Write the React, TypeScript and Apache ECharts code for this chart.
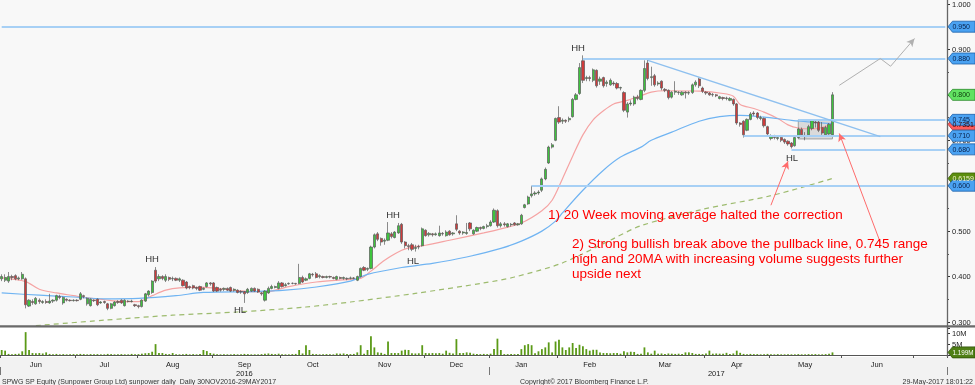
import React, { useEffect, useRef } from "react";
import * as echarts from "echarts";

const FONT = "'Liberation Sans', Arial, sans-serif";
const MONTHS = ["Jan", "Feb", "Mar", "Apr", "May", "Jun", "Jul", "Aug", "Sep", "Oct", "Nov", "Dec"];
const FIRST_DAY = "2016-06-01";
const LAST_DAY = "2017-07-14";
const HOLIDAYS = ["2016-07-06", "2016-08-09", "2016-09-12", "2016-12-26", "2017-01-02", "2017-01-30", "2017-04-14", "2017-05-01", "2017-05-10", "2017-06-26"];
const NO_TRADE_DAYS = ["2016-07-22", "2016-07-29", "2016-09-30", "2016-10-14", "2016-12-23", "2016-12-30"];

// [open, close, low, high]
const OHLC_2016_06 = [
  [0.395, 0.4, 0.39, 0.405], [0.392, 0.398, 0.388, 0.405], [0.39, 0.4, 0.386, 0.41], [0.4, 0.398, 0.392, 0.404],
  [0.402, 0.395, 0.392, 0.405], [0.395, 0.397, 0.392, 0.4], [0.395, 0.405, 0.393, 0.41], [0.395, 0.338, 0.33, 0.398],
  [0.335, 0.348, 0.333, 0.35], [0.345, 0.343, 0.338, 0.35], [0.34, 0.352, 0.338, 0.355], [0.348, 0.345, 0.34, 0.352],
  [0.343, 0.345, 0.34, 0.348], [0.345, 0.343, 0.34, 0.35], [0.342, 0.346, 0.34, 0.362], [0.346, 0.348, 0.342, 0.35],
  [0.348, 0.358, 0.345, 0.36], [0.356, 0.354, 0.35, 0.36], [0.342, 0.354, 0.338, 0.356], [0.35, 0.348, 0.345, 0.352],
  [0.348, 0.347, 0.345, 0.35], [0.347, 0.348, 0.345, 0.35],
];
const OHLC_2016_07 = [
  [0.348, 0.347, 0.345, 0.35], [0.35, 0.362, 0.348, 0.366], [0.358, 0.356, 0.352, 0.36], [0.34, 0.352, 0.336, 0.354],
  [0.336, 0.35, 0.334, 0.352], [0.348, 0.347, 0.344, 0.35], [0.35, 0.338, 0.335, 0.352], [0.342, 0.344, 0.34, 0.346],
  [0.345, 0.343, 0.34, 0.347], [0.34, 0.33, 0.326, 0.342], [0.33, 0.34, 0.328, 0.342], [0.336, 0.344, 0.334, 0.346],
  [0.345, 0.343, 0.34, 0.348], [0.348, 0.342, 0.34, 0.35], [0.336, 0.348, 0.334, 0.35], [0.346, 0.345, 0.343, 0.348],
  [0.345, 0.346, 0.343, 0.349], [0.338, 0.336, 0.333, 0.34],
];
const OHLC_2016_08 = [
  [0.336, 0.334, 0.33, 0.338], [0.334, 0.348, 0.332, 0.35], [0.346, 0.362, 0.344, 0.364], [0.36, 0.368, 0.356, 0.37],
  [0.365, 0.39, 0.362, 0.392], [0.414, 0.39, 0.386, 0.421], [0.395, 0.4, 0.39, 0.405], [0.4, 0.396, 0.392, 0.403],
  [0.392, 0.4, 0.388, 0.405], [0.398, 0.394, 0.39, 0.4], [0.395, 0.396, 0.39, 0.4], [0.396, 0.392, 0.39, 0.398],
  [0.392, 0.395, 0.388, 0.398], [0.392, 0.38, 0.378, 0.394], [0.388, 0.375, 0.372, 0.39], [0.378, 0.376, 0.372, 0.38],
  [0.38, 0.375, 0.372, 0.382], [0.376, 0.374, 0.37, 0.378], [0.378, 0.37, 0.368, 0.38], [0.372, 0.374, 0.37, 0.376],
  [0.378, 0.386, 0.376, 0.388], [0.386, 0.384, 0.38, 0.388],
];
const OHLC_2016_09 = [
  [0.386, 0.368, 0.366, 0.388], [0.376, 0.368, 0.366, 0.378], [0.372, 0.37, 0.367, 0.375], [0.372, 0.374, 0.368, 0.376],
  [0.374, 0.37, 0.368, 0.376], [0.376, 0.368, 0.366, 0.378], [0.37, 0.372, 0.367, 0.374], [0.37, 0.365, 0.363, 0.372],
  [0.367, 0.366, 0.362, 0.37], [0.367, 0.362, 0.342, 0.368], [0.365, 0.372, 0.362, 0.375], [0.368, 0.374, 0.366, 0.376],
  [0.374, 0.368, 0.366, 0.376], [0.372, 0.366, 0.364, 0.374], [0.364, 0.362, 0.358, 0.366], [0.348, 0.368, 0.345, 0.37],
  [0.364, 0.374, 0.362, 0.378], [0.374, 0.378, 0.372, 0.382], [0.376, 0.378, 0.374, 0.38], [0.374, 0.386, 0.372, 0.39],
];
const OHLC_2016_10 = [
  [0.386, 0.378, 0.376, 0.388], [0.38, 0.382, 0.378, 0.386], [0.384, 0.385, 0.382, 0.387], [0.385, 0.385, 0.383, 0.387],
  [0.385, 0.384, 0.382, 0.386], [0.385, 0.398, 0.383, 0.428], [0.398, 0.388, 0.386, 0.402], [0.392, 0.395, 0.39, 0.398],
  [0.396, 0.406, 0.394, 0.408], [0.405, 0.404, 0.4, 0.408], [0.406, 0.398, 0.396, 0.41], [0.4, 0.402, 0.396, 0.405],
  [0.4, 0.398, 0.396, 0.402], [0.398, 0.4, 0.396, 0.402], [0.4, 0.399, 0.396, 0.402], [0.398, 0.396, 0.394, 0.4],
  [0.394, 0.4, 0.392, 0.402], [0.398, 0.396, 0.394, 0.4], [0.396, 0.398, 0.393, 0.4], [0.396, 0.395, 0.392, 0.398],
];
const OHLC_2016_11 = [
  [0.396, 0.397, 0.394, 0.4], [0.397, 0.396, 0.394, 0.399], [0.392, 0.4, 0.39, 0.402], [0.4, 0.418, 0.398, 0.42],
  [0.42, 0.414, 0.412, 0.423], [0.416, 0.418, 0.412, 0.42], [0.418, 0.465, 0.416, 0.468], [0.465, 0.492, 0.462, 0.495],
  [0.494, 0.482, 0.478, 0.498], [0.484, 0.476, 0.468, 0.486], [0.478, 0.48, 0.47, 0.484], [0.48, 0.496, 0.478, 0.52],
  [0.494, 0.488, 0.484, 0.498], [0.486, 0.498, 0.484, 0.5], [0.496, 0.512, 0.494, 0.518], [0.515, 0.476, 0.472, 0.518],
  [0.476, 0.468, 0.462, 0.478], [0.468, 0.466, 0.458, 0.472], [0.47, 0.46, 0.456, 0.474], [0.462, 0.464, 0.455, 0.47],
  [0.466, 0.465, 0.46, 0.47], [0.468, 0.505, 0.466, 0.508],
];
const OHLC_2016_12 = [
  [0.502, 0.49, 0.488, 0.504], [0.492, 0.495, 0.488, 0.498], [0.494, 0.492, 0.488, 0.496], [0.492, 0.494, 0.49, 0.497],
  [0.49, 0.496, 0.488, 0.512], [0.495, 0.494, 0.49, 0.498], [0.49, 0.498, 0.488, 0.502], [0.5, 0.492, 0.49, 0.502],
  [0.494, 0.496, 0.49, 0.498], [0.516, 0.504, 0.5, 0.535], [0.5, 0.496, 0.492, 0.502], [0.496, 0.498, 0.492, 0.5],
  [0.495, 0.497, 0.492, 0.518], [0.518, 0.505, 0.5, 0.52], [0.494, 0.502, 0.492, 0.504], [0.5, 0.508, 0.498, 0.51],
  [0.508, 0.506, 0.502, 0.51], [0.506, 0.51, 0.504, 0.512], [0.51, 0.512, 0.506, 0.516],
];
const OHLC_2017_01 = [
  [0.512, 0.52, 0.51, 0.524], [0.52, 0.546, 0.518, 0.55], [0.545, 0.512, 0.508, 0.548], [0.512, 0.516, 0.508, 0.52],
  [0.516, 0.514, 0.51, 0.52], [0.51, 0.516, 0.508, 0.518], [0.514, 0.515, 0.51, 0.518], [0.518, 0.514, 0.512, 0.52],
  [0.514, 0.516, 0.512, 0.518], [0.516, 0.535, 0.514, 0.538], [0.552, 0.558, 0.55, 0.56], [0.56, 0.575, 0.558, 0.578],
  [0.578, 0.582, 0.574, 0.6], [0.582, 0.584, 0.578, 0.588], [0.584, 0.586, 0.58, 0.59], [0.59, 0.615, 0.586, 0.618],
  [0.615, 0.636, 0.612, 0.64], [0.65, 0.685, 0.648, 0.688], [0.685, 0.69, 0.682, 0.694], [0.7, 0.748, 0.698, 0.75],
];
const OHLC_2017_02 = [
  [0.75, 0.74, 0.736, 0.775], [0.742, 0.744, 0.736, 0.748], [0.744, 0.742, 0.738, 0.746], [0.745, 0.748, 0.74, 0.752],
  [0.752, 0.79, 0.75, 0.793], [0.79, 0.8, 0.788, 0.804], [0.803, 0.86, 0.8, 0.87], [0.875, 0.832, 0.826, 0.887],
  [0.836, 0.838, 0.83, 0.842], [0.838, 0.836, 0.83, 0.842], [0.832, 0.855, 0.828, 0.858], [0.854, 0.82, 0.816, 0.856],
  [0.83, 0.835, 0.822, 0.84], [0.838, 0.82, 0.816, 0.84], [0.825, 0.828, 0.818, 0.832], [0.822, 0.832, 0.82, 0.836],
  [0.826, 0.824, 0.82, 0.83], [0.825, 0.815, 0.812, 0.828], [0.815, 0.816, 0.81, 0.818], [0.805, 0.766, 0.762, 0.808],
];
const OHLC_2017_03 = [
  [0.762, 0.78, 0.75, 0.784], [0.78, 0.782, 0.776, 0.788], [0.78, 0.795, 0.776, 0.798], [0.795, 0.792, 0.788, 0.8],
  [0.79, 0.81, 0.788, 0.812], [0.81, 0.858, 0.806, 0.876], [0.87, 0.836, 0.832, 0.878], [0.838, 0.84, 0.82, 0.862],
  [0.842, 0.822, 0.818, 0.846], [0.824, 0.826, 0.82, 0.83], [0.83, 0.815, 0.81, 0.832], [0.812, 0.81, 0.806, 0.815],
  [0.81, 0.794, 0.79, 0.812], [0.795, 0.806, 0.792, 0.808], [0.806, 0.808, 0.8, 0.83], [0.806, 0.805, 0.8, 0.808],
  [0.8, 0.806, 0.798, 0.808], [0.806, 0.804, 0.792, 0.808], [0.804, 0.805, 0.8, 0.808], [0.805, 0.822, 0.802, 0.825],
  [0.822, 0.828, 0.818, 0.832], [0.835, 0.82, 0.815, 0.838], [0.815, 0.808, 0.804, 0.818],
];
const OHLC_2017_04 = [
  [0.806, 0.804, 0.8, 0.808], [0.804, 0.8, 0.798, 0.806], [0.8, 0.801, 0.796, 0.804], [0.8, 0.798, 0.795, 0.802],
  [0.792, 0.796, 0.79, 0.798], [0.794, 0.792, 0.788, 0.796], [0.792, 0.793, 0.788, 0.796], [0.788, 0.792, 0.786, 0.795],
  [0.79, 0.78, 0.776, 0.792], [0.78, 0.738, 0.734, 0.782], [0.738, 0.735, 0.73, 0.74], [0.742, 0.712, 0.706, 0.744],
  [0.722, 0.746, 0.72, 0.748], [0.746, 0.758, 0.744, 0.762], [0.76, 0.758, 0.754, 0.764], [0.76, 0.75, 0.746, 0.762],
  [0.748, 0.75, 0.744, 0.754], [0.748, 0.732, 0.728, 0.75], [0.73, 0.714, 0.71, 0.732],
];
const OHLC_2017_05 = [
  [0.704, 0.71, 0.7, 0.713], [0.708, 0.706, 0.702, 0.712], [0.704, 0.706, 0.7, 0.71], [0.706, 0.7, 0.696, 0.708],
  [0.702, 0.696, 0.692, 0.704], [0.698, 0.692, 0.688, 0.7], [0.694, 0.686, 0.682, 0.696], [0.688, 0.706, 0.686, 0.708],
  [0.706, 0.725, 0.704, 0.728], [0.724, 0.712, 0.708, 0.728], [0.708, 0.71, 0.7, 0.718], [0.712, 0.73, 0.708, 0.734],
  [0.726, 0.744, 0.722, 0.746], [0.74, 0.738, 0.728, 0.746], [0.74, 0.722, 0.718, 0.744], [0.728, 0.716, 0.712, 0.74],
  [0.712, 0.728, 0.71, 0.732], [0.714, 0.735, 0.712, 0.738], [0.712, 0.8, 0.71, 0.806],
];

// volume, millions of shares
const VOL_2016_06 = [2.3, 2.0, 0.5, 0.4, 0.5, 0.6, 1.7, 10.5, 2.3, 0.9, 0.8, 0.9, 0.7, 1.2, 0.5, 0.4, 0.5, 0.3, 0.4, 0.3, 0.3, 0.4];
const VOL_2016_07 = [0.3, 0.5, 0.4, 0.3, 0.4, 0.3, 0.4, 0.3, 0.3, 0.5, 0.4, 0.3, 0.3, 0.4, 0.3, 0.3, 0.5, 0.4];
const VOL_2016_08 = [0.4, 0.6, 0.8, 0.9, 1.5, 5.0, 0.9, 0.9, 0.5, 0.4, 0.9, 0.4, 0.3, 0.4, 0.5, 0.3, 0.4, 0.3, 0.5, 2.3, 1.8, 0.9];
const VOL_2016_09 = [0.6, 0.4, 0.3, 0.4, 0.3, 0.3, 0.4, 0.3, 0.3, 0.5, 0.4, 0.3, 0.3, 0.3, 0.4, 0.6, 0.7, 0.5, 0.4, 0.6];
const VOL_2016_10 = [0.4, 0.3, 0.3, 0.4, 0.5, 2.3, 0.7, 4.5, 2.3, 0.5, 0.4, 0.3, 0.3, 0.4, 0.3, 0.3, 0.7, 0.6, 0.7, 0.5];
const VOL_2016_11 = [0.4, 0.5, 1.2, 4.5, 0.6, 2.3, 8.6, 3.5, 1.2, 1.0, 0.5, 6.2, 0.9, 0.9, 0.9, 2.0, 2.4, 2.3, 0.8, 0.7, 0.8, 4.5];
const VOL_2016_12 = [0.9, 0.8, 0.9, 0.8, 0.9, 0.6, 2.0, 1.0, 0.7, 7.3, 0.9, 0.9, 1.2, 1.0, 0.6, 0.5, 0.4, 0.5, 0.4];
const VOL_2017_01 = [0.6, 2.7, 7.5, 2.3, 0.4, 0.4, 0.5, 0.4, 0.5, 2.7, 4.5, 5.0, 4.5, 0.8, 1.7, 2.7, 3.5, 5.8, 1.2, 6.2];
const VOL_2017_02 = [7.0, 3.5, 2.3, 3.5, 5.5, 3.2, 4.7, 4.0, 2.7, 2.0, 2.4, 2.4, 1.2, 0.9, 0.9, 0.8, 0.9, 0.9, 0.6, 1.7];
const VOL_2017_03 = [1.2, 1.5, 1.4, 0.5, 0.6, 3.5, 1.2, 0.6, 2.0, 0.6, 0.7, 0.5, 0.7, 0.6, 0.5, 0.6, 0.5, 1.2, 1.2, 0.9, 0.5, 0.5, 0.4];
const VOL_2017_04 = [0.7, 2.0, 0.6, 0.7, 0.6, 0.6, 1.0, 0.5, 0.7, 2.0, 1.0, 0.5, 0.4, 0.5, 0.4, 0.4, 0.3, 0.4, 0.5];
const VOL_2017_05 = [0.4, 0.3, 0.4, 0.3, 0.3, 0.4, 0.3, 0.3, 0.4, 0.3, 0.3, 0.4, 0.3, 0.4, 0.3, 0.3, 0.4, 0.6, 1.199];

// moving averages: [trading-day index, value]
const MA_SHORT = [
  [0, 0.397], [7, 0.389], [11, 0.372], [16, 0.364], [21, 0.358], [25, 0.353], [30, 0.349], [35, 0.345], [40, 0.345],
  [44, 0.358], [48, 0.37], [52, 0.375], [59, 0.376], [69, 0.369], [77, 0.366], [84, 0.378], [92, 0.388], [102, 0.394],
  [105, 0.396], [108, 0.412], [112, 0.436], [117, 0.458], [120, 0.465], [124, 0.469], [131, 0.48], [141, 0.496],
  [146, 0.505], [152, 0.518], [158, 0.545], [161, 0.568], [164, 0.615], [167, 0.665], [170, 0.712], [173, 0.745],
  [176, 0.765], [179, 0.78], [183, 0.788], [187, 0.798], [190, 0.806], [194, 0.809], [204, 0.808], [211, 0.803],
  [214, 0.797], [216, 0.779], [220, 0.77], [223, 0.762], [227, 0.748], [230, 0.734], [233, 0.727], [237, 0.725], [243, 0.7351],
];
const MA_MID = [
  [0, 0.364], [11, 0.359], [21, 0.355], [30, 0.351], [40, 0.352], [51, 0.358], [59, 0.365], [74, 0.367], [83, 0.37],
  [92, 0.377], [102, 0.39], [107, 0.405], [117, 0.42], [126, 0.429], [136, 0.443], [146, 0.462], [152, 0.478],
  [158, 0.5], [162, 0.522], [164, 0.54], [170, 0.59], [176, 0.634], [181, 0.663], [187, 0.685], [190, 0.7],
  [196, 0.718], [204, 0.742], [210, 0.752], [216, 0.755], [223, 0.751], [231, 0.744], [239, 0.739], [243, 0.737],
];
const MA_LONG = [
  [10, 0.292], [30, 0.304], [50, 0.315], [69, 0.322], [89, 0.333], [102, 0.344], [121, 0.363], [141, 0.386],
  [150, 0.399], [164, 0.43], [178, 0.48], [187, 0.512], [205, 0.548], [225, 0.578], [243, 0.6159],
];

// drawn levels and annotations: [trading-day index, price]
const LEVELS = [
  { from: 0, value: 0.95 }, { from: 170, value: 0.88 }, { from: 233, value: 0.745 },
  { from: 217, value: 0.71 }, { from: 231, value: 0.68 }, { from: 155, value: 0.6 },
];
const TREND_LINE = [[189, 0.876], [257, 0.708]];
const RANGE_BOX = [[233, 0.745], [243, 0.703]];
const PROJECTION = [[245, 0.821], [257, 0.88], [260, 0.863], [267, 0.924]];
const ARROW_1 = [[225, 0.557], [230, 0.654]];
const ARROW_2 = [[257, 0.475], [245, 0.715]];
const HIDDEN_AXIS_LABELS = [0.8, 0.6];

const TAGS = [
  { value: 0.7351, text: "0.7351", fill: "#ff5b5b", stroke: "#b42a2a", color: "#3a0000" },
  { value: 0.6159, text: "0.6159", fill: "#5c8e0e", stroke: "#3c5e04", color: "#f4f4d0" },
  { value: 0.95, text: "0.950", fill: "#4aa2f2", stroke: "#1d5fa8", color: "#08204a" },
  { value: 0.88, text: "0.880", fill: "#4aa2f2", stroke: "#1d5fa8", color: "#08204a" },
  { value: 0.8, text: "0.800", fill: "#62e262", stroke: "#2c8a2c", color: "#0a3a0a" },
  { value: 0.745, text: "0.745", fill: "#4aa2f2", stroke: "#1d5fa8", color: "#08204a" },
  { value: 0.71, text: "0.710", fill: "#4aa2f2", stroke: "#1d5fa8", color: "#08204a" },
  { value: 0.68, text: "0.680", fill: "#4aa2f2", stroke: "#1d5fa8", color: "#08204a" },
  { value: 0.6, text: "0.600", fill: "#4aa2f2", stroke: "#1d5fa8", color: "#08204a" },
];
const VOL_TAG = { value: 1.199, text: "1.199M", fill: "#4f7f16", stroke: "#2f5208", color: "#ffffff" };

const OHLC = [
  ...OHLC_2016_06, ...OHLC_2016_07, ...OHLC_2016_08, ...OHLC_2016_09, ...OHLC_2016_10, ...OHLC_2016_11,
  ...OHLC_2016_12, ...OHLC_2017_01, ...OHLC_2017_02, ...OHLC_2017_03, ...OHLC_2017_04, ...OHLC_2017_05,
];
const VOLUME = [
  ...VOL_2016_06, ...VOL_2016_07, ...VOL_2016_08, ...VOL_2016_09, ...VOL_2016_10, ...VOL_2016_11,
  ...VOL_2016_12, ...VOL_2017_01, ...VOL_2017_02, ...VOL_2017_03, ...VOL_2017_04, ...VOL_2017_05,
];
const LAST_CANDLE = OHLC.length - 1;

function tradingDays(): string[] {
  const skip = new Set([...HOLIDAYS, ...NO_TRADE_DAYS]);
  const out: string[] = [];
  const d = new Date(FIRST_DAY + "T00:00:00Z");
  const end = new Date(LAST_DAY + "T00:00:00Z");
  while (d <= end) {
    const wd = d.getUTCDay();
    const s = d.toISOString().slice(0, 10);
    if (wd !== 0 && wd !== 6 && !skip.has(s)) out.push(s);
    d.setUTCDate(d.getUTCDate() + 1);
  }
  return out;
}

const DATES = tradingDays();
const LAST = DATES.length - 1;

function groupBounds(keyLen: number) {
  const m = new Map<string, [number, number]>();
  DATES.forEach((d, i) => {
    const k = d.slice(0, keyLen);
    const b = m.get(k);
    if (b) b[1] = i;
    else m.set(k, [i, i]);
  });
  return [...m.values()];
}
const monthBounds = groupBounds(7);
const yearBounds = groupBounds(4);
const MONTH_START = new Set(monthBounds.map((b) => b[0]));
const MONTH_MID = new Set(monthBounds.filter((b) => b[1] - b[0] >= 14).map((b) => Math.floor((b[0] + b[1]) / 2)));
const YEAR_START = new Set([0, ...yearBounds.slice(1).map((b) => b[0])]);
const YEAR_MID = new Set(yearBounds.map((b) => Math.floor((b[0] + b[1]) / 2)));

function sparse(points: number[][]) {
  const arr: (number | null)[] = DATES.map(() => null);
  points.forEach(([i, v]) => (arr[i] = v));
  return arr;
}

const seg = (a: number[], b: number[], style: any, arrow = false) => [
  { coord: a, symbol: "none", lineStyle: style },
  { coord: b, symbol: arrow ? "arrow" : "none", symbolSize: [6, 8] },
];

function buildOption(): any {
  const levelStyle = { color: "#a7d0f5", width: 2, type: "solid" };
  const markLines = [
    ...LEVELS.map((l) => seg([l.from, l.value], [LAST, l.value], levelStyle)),
    seg(TREND_LINE[0], TREND_LINE[1], { color: "#8ec0ef", width: 1.3, type: "solid" }),
    seg(PROJECTION[0], PROJECTION[1], { color: "#b0b0b0", width: 1, type: "solid" }),
    seg(PROJECTION[1], PROJECTION[2], { color: "#b0b0b0", width: 1, type: "solid" }),
    seg(PROJECTION[2], PROJECTION[3], { color: "#b0b0b0", width: 1, type: "solid" }, true),
    seg(ARROW_1[0], ARROW_1[1], { color: "#ff6b6b", width: 1, type: "solid" }, true),
    seg(ARROW_2[0], ARROW_2[1], { color: "#ff6b6b", width: 1, type: "solid" }, true),
  ];
  const label = { fontFamily: FONT, fontSize: 7.5, color: "#222" };
  return {
    animation: false,
    backgroundColor: "transparent",
    grid: [
      { left: -6, width: 953, top: 3.5, height: 318.5 },
      { left: -6, width: 953, top: 328, height: 27 },
    ],
    xAxis: [
      {
        type: "category", gridIndex: 0, data: DATES, boundaryGap: true, position: "bottom",
        axisLine: { show: false }, axisTick: { show: false }, axisLabel: { show: false }, splitLine: { show: false },
      },
      {
        type: "category", gridIndex: 1, data: DATES, boundaryGap: true, position: "bottom", offset: 2,
        axisLine: { show: true, lineStyle: { color: "#555", width: 1 } },
        axisTick: { show: true, interval: (i: number) => MONTH_START.has(i), length: 3, lineStyle: { color: "#555" } },
        axisLabel: {
          show: true, interval: (i: number) => MONTH_MID.has(i), margin: 3.5, ...label,
          formatter: (v: string) => MONTHS[Number(v.slice(5, 7)) - 1],
        },
        splitLine: { show: false },
      },
      {
        type: "category", gridIndex: 1, data: DATES, boundaryGap: true, position: "bottom", offset: 12,
        axisLine: { show: false },
        axisTick: { show: true, interval: (i: number) => YEAR_START.has(i), length: 8, lineStyle: { color: "#777" } },
        axisLabel: {
          show: true, interval: (i: number) => YEAR_MID.has(i), margin: 2, ...label,
          formatter: (v: string) => v.slice(0, 4),
        },
        splitLine: { show: false },
      },
    ],
    yAxis: [
      {
        type: "value", gridIndex: 0, position: "right", min: 0.3, max: 1.0, interval: 0.1,
        axisLine: { show: false },
        axisTick: { show: true, length: 3, lineStyle: { color: "#333" } },
        minorTick: { show: true, splitNumber: 2, length: 2, lineStyle: { color: "#555" } },
        axisLabel: {
          margin: 5, ...label,
          formatter: (v: number) => (HIDDEN_AXIS_LABELS.some((h) => Math.abs(h - v) < 1e-6) ? "" : v.toFixed(3)),
        },
        splitLine: { show: false },
      },
      {
        type: "value", gridIndex: 1, position: "right", min: 0, max: 12.4, interval: 5,
        axisLine: { show: false },
        axisTick: { show: true, length: 3, lineStyle: { color: "#333" } },
        axisLabel: { margin: 5, ...label, formatter: (v: number) => (v === 5 ? "5M" : v === 10 ? "10M" : "") },
        splitLine: { show: false },
      },
    ],
    series: [
      {
        type: "candlestick", xAxisIndex: 0, yAxisIndex: 0, data: OHLC, barWidth: 2.7,
        itemStyle: { color: "#3ec43e", color0: "#cf3b3b", borderColor: "#5a5a5a", borderColor0: "#5a5a5a", borderWidth: 0.7 },
        markLine: { silent: true, symbol: ["none", "none"], label: { show: false }, data: markLines },
        markArea: {
          silent: true,
          itemStyle: { color: "rgba(140,140,140,0.28)", borderColor: "#a0a0a0", borderWidth: 1 },
          data: [[{ coord: RANGE_BOX[0] }, { coord: RANGE_BOX[1] }]],
        },
        z: 3,
      },
      {
        type: "line", xAxisIndex: 0, yAxisIndex: 0, data: sparse(MA_SHORT), connectNulls: true, smooth: 0.3,
        showSymbol: false, symbol: "none", lineStyle: { color: "#f5a3a3", width: 1.2 }, z: 2,
      },
      {
        type: "line", xAxisIndex: 0, yAxisIndex: 0, data: sparse(MA_MID), connectNulls: true, smooth: 0.3,
        showSymbol: false, symbol: "none", lineStyle: { color: "#70b4f2", width: 1.2 }, z: 2,
      },
      {
        type: "line", xAxisIndex: 0, yAxisIndex: 0, data: sparse(MA_LONG), connectNulls: true, smooth: 0.3, clip: false,
        showSymbol: false, symbol: "none", lineStyle: { color: "#9dbb6e", width: 1.2, type: [5, 4] }, z: 2,
      },
      {
        type: "bar", xAxisIndex: 1, yAxisIndex: 1, data: VOLUME, barWidth: 1.8,
        itemStyle: { color: "#5b9a17" },
        markArea: {
          silent: true, itemStyle: { color: "rgba(160,200,240,0.5)" },
          data: [[{ coord: [241, 0] }, { coord: [LAST_CANDLE, 2.4] }]],
        },
      },
    ],
  };
}

function tag(id: string, y: number, t: any, size = 7) {
  return [
    {
      type: "polygon", id: id + "-shape", z: 60, silent: true,
      shape: { points: [[948, y], [952.5, y - 5.5], [975, y - 5.5], [975, y + 5.5], [952.5, y + 5.5]] },
      style: { fill: t.fill, stroke: t.stroke, lineWidth: 0.8 },
    },
    {
      type: "text", id: id + "-text", z: 61, silent: true, x: 952.5, y,
      style: { text: t.text, fill: t.color, font: `${size}px ${FONT}`, verticalAlign: "middle", align: "left" },
    },
  ];
}

const txt = (id: string, x: number, y: number, text: string, size: number, color: string, align = "left") => ({
  type: "text", id, z: 40, silent: true, x, y,
  style: { text, fill: color, font: `${size}px ${FONT}`, align, verticalAlign: "middle" },
});

export default function App() {
  const ref = useRef<HTMLDivElement>(null);
  useEffect(() => {
    const el = ref.current;
    if (!el) return;
    const chart = echarts.init(el, undefined, { renderer: "svg", width: 975, height: 385 });
    chart.setOption(buildOption());
    const py = (v: number) => chart.convertToPixel({ yAxisIndex: 0 }, v) as number;
    const vy = (v: number) => chart.convertToPixel({ yAxisIndex: 1 }, v) as number;
    const graphics: any[] = [
      { type: "rect", id: "bg", z: -20, silent: true, shape: { x: 0, y: 0, width: 975, height: 385 }, style: { fill: "#f2f2f2" } },
      { type: "rect", id: "pp", z: -19, silent: true, shape: { x: 0, y: 0, width: 975, height: 325.5 }, style: { fill: "#f8f8f8" } },
      { type: "rect", id: "vp", z: -19, silent: true, shape: { x: 0, y: 327.5, width: 975, height: 29.5 }, style: { fill: "#ffffff" } },
      { type: "rect", id: "sep", z: 30, silent: true, shape: { x: 0, y: 325.3, width: 975, height: 2.2 }, style: { fill: "#6a6a6a" } },
      { type: "line", id: "axisv", z: 30, silent: true, shape: { x1: 947.5, y1: 0, x2: 947.5, y2: 357 }, style: { stroke: "#666", lineWidth: 1.3 } },
      txt("hh1", 578, 47, "HH", 9.5, "#333", "center"),
      txt("hh2", 393, 214, "HH", 9.5, "#333", "center"),
      txt("hh3", 152, 258, "HH", 9.5, "#333", "center"),
      txt("hl1", 792, 157, "HL", 9.5, "#333", "center"),
      txt("hl2", 413, 260, "HL", 9.5, "#333", "center"),
      txt("hl3", 240, 309, "HL", 9.5, "#333", "center"),
      txt("n1", 548, 214, "1) 20 Week moving average halted the correction", 13.5, "#ff0000"),
      txt("n2a", 572, 243, "2) Strong bullish break above the pullback line, 0.745 range", 13.5, "#ff0000"),
      txt("n2b", 572, 258, "high and 20MA with increasing volume suggests further", 13.5, "#ff0000"),
      txt("n2c", 572, 273, "upside next", 13.5, "#ff0000"),
      txt("f1", 2, 381, "SPWG SP Equity (Sunpower Group Ltd) sunpower daily  Daily 30NOV2016-29MAY2017", 7, "#333"),
      txt("f2", 520, 381, "Copyright\u00a9 2017 Bloomberg Finance L.P.", 7, "#333"),
      txt("f3", 973, 381, "29-May-2017 18:01:22", 7, "#333", "right"),
    ];
    TAGS.forEach((t, i) => graphics.push(...tag("tag" + i, py(t.value), t)));
    graphics.push(...tag("vtag", vy(VOL_TAG.value), VOL_TAG, 6.3));
    chart.setOption({ graphic: graphics });
    return () => chart.dispose();
  }, []);
  return <div ref={ref} style={{ position: "fixed", left: 0, top: 0, width: 975, height: 385 }} />;
}
